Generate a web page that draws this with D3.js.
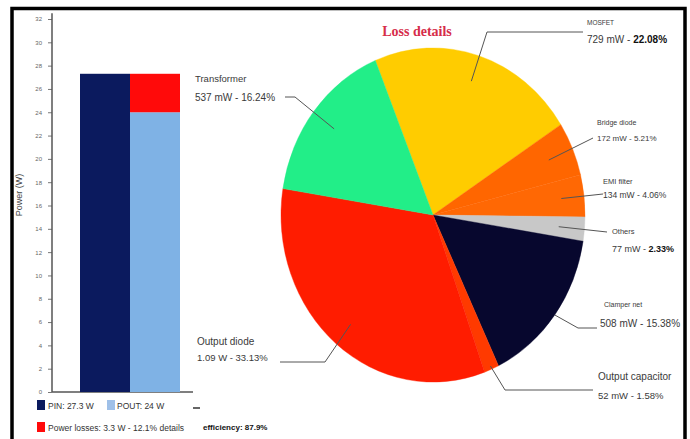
<!DOCTYPE html>
<html><head><meta charset="utf-8">
<script src="https://cdn.jsdelivr.net/npm/d3@7"></script>
<style>body{margin:0;background:#fff;} svg{display:block;font-family:"Liberation Sans",Arial,sans-serif;}</style>
</head><body><svg id="c" width="690" height="439"></svg>
<script>
// ---------- data ----------
const barCategories = ["PIN", "POUT"];
const pinValues = [27.3];
const poutValues = [24];
const lossTotal = [3.3];
const yTicks = [0,2,4,6,8,10,12,14,16,18,20,22,24,26,28,30,32];
const legendTexts = ["PIN: 27.3 W", "POUT: 24 W", "Power losses: 3.3 W - 12.1% details"];
const efficiencyText = ["efficiency: 87.9%"];
const lossNames = ["MOSFET", "Bridge diode", "EMI filter", "Others", "Clamper net", "Output capacitor", "Output diode", "Transformer"];
const lossMilliwatts = [729, 172, 134, 77, 508, 52, 1090, 537];
const lossValueTexts = ["729 mW - ", "172 mW - ", "134 mW - ", "77 mW - ", "508 mW - ", "52 mW - ", "1.09 W - ", "537 mW - "];
const lossPercentTexts = ["22.08%", "5.21%", "4.06%", "2.33%", "15.38%", "1.58%", "33.13%", "16.24%"];
const pieTitle = ["Loss details"];

// ---------- styles / layout ----------
const lossColors = ["#ffcc00", "#ff6600", "#ff6804", "#c8c8c8", "#07072e", "#ff3a00", "#ff1c00", "#22ee88"];
const labelLayout = [
  {r:0.84, pts:[[487,32],[583,32]], nx:587, ny:25, vx:587, vy:43, ns:6.5, vs:10, bold:true},
  {r:0.83, pts:[[593,138]],          nx:597, ny:125, vx:597, vy:141, ns:7, vs:8, bold:false},
  {r:0.85, pts:[[603,194]],          nx:603, ny:184, vx:603, vy:198, ns:7.5, vs:8.5, bold:false},
  {r:0.83, pts:[[607,232]],          nx:612, ny:234, vx:612, vy:252, ns:7.5, vs:9, bold:true},
  {r:1.0,  pts:[[578,328],[597,328]], nx:604, ny:307, vx:600, vy:327, ns:7, vs:10, bold:false},
  {r:0.98, pts:[[505,390],[593,390]], nx:598, ny:380, vx:598, vy:399, ns:10, vs:9.5, bold:false},
  {r:0.85, pts:[[325,362],[280,362]], nx:197, ny:345, vx:197, vy:361, ns:10, vs:9.5, bold:false},
  {r:0.83, pts:[[295,97],[285,97]],   nx:195, ny:82, vx:195, vy:101, ns:9.5, vs:10, bold:false}
];

const svg = d3.select("#c");

// frame
svg.append("path").attr("d","M12,439 V8.5 H685 V439")
  .attr("fill","none").attr("stroke","#000").attr("stroke-width",3.5);

// ---------- bar chart ----------
const y = d3.scaleLinear().domain([0,32]).range([392,19]);
const x = d3.scaleBand().domain(barCategories).range([80,180]).padding(0);

const ax = svg.append("g").attr("transform","translate(52,0)")
  .call(d3.axisLeft(y).tickValues(yTicks).tickSize(4).tickPadding(6));
ax.select(".domain").remove();
ax.selectAll(".tick line").attr("stroke","#777");
ax.selectAll(".tick text").attr("font-size",6).attr("fill","#666").attr("font-family","Liberation Sans, Arial");
svg.append("line").attr("x1",52).attr("x2",52).attr("y1",y(0)).attr("y2",y(32.5))
  .attr("stroke","#555").attr("stroke-width",1.5);
svg.append("line").attr("x1",52).attr("x2",193).attr("y1",y(0)).attr("y2",y(0))
  .attr("stroke","#555").attr("stroke-width",1.5);

svg.append("text").attr("transform",`translate(22,${195}) rotate(-90)`)
  .attr("text-anchor","middle").attr("font-size",9).attr("fill","#444").text("Power (W)");

svg.append("rect").attr("x",x("PIN")).attr("width",x.bandwidth())
  .attr("y",y(pinValues[0])).attr("height",y(0)-y(pinValues[0])).attr("fill","#0b1a5e");
svg.append("rect").attr("x",x("POUT")).attr("width",x.bandwidth())
  .attr("y",y(poutValues[0])).attr("height",y(0)-y(poutValues[0])).attr("fill","#7fb2e5");
svg.append("rect").attr("x",x("POUT")).attr("width",x.bandwidth())
  .attr("y",y(poutValues[0]+lossTotal[0])).attr("height",y(poutValues[0])-y(poutValues[0]+lossTotal[0])).attr("fill","#ff0a0a");

// legend
const lg = svg.append("g").attr("font-size",8.5).attr("fill","#333");
lg.append("rect").attr("x",37).attr("y",400).attr("width",8).attr("height",10).attr("fill","#0b1a5e");
lg.append("text").attr("x",48).attr("y",409).text(legendTexts[0]);
lg.append("rect").attr("x",107).attr("y",400).attr("width",8).attr("height",10).attr("fill","#9fc0e8");
lg.append("text").attr("x",117).attr("y",409).text(legendTexts[1]);
lg.append("rect").attr("x",37).attr("y",422).attr("width",8).attr("height",10).attr("fill","#ff0a0a");
lg.append("text").attr("x",48).attr("y",431).text(legendTexts[2]);
svg.append("line").attr("x1",193).attr("x2",200).attr("y1",408).attr("y2",408).attr("stroke","#333").attr("stroke-width",1.5);
svg.append("text").attr("x",203).attr("y",430).attr("font-size",8).attr("font-weight","bold").attr("fill","#111").text(efficiencyText[0]);

// ---------- pie ----------
const cx = 433, cy = 215, R = 152, sy = 1.099;
const start = -22.3 * Math.PI / 180;
const pie = d3.pie().sort(null).value(d => d).startAngle(start).endAngle(start + 2*Math.PI);
const arcs = pie(lossMilliwatts);
const arc = d3.arc().innerRadius(0).outerRadius(R);
const pg = svg.append("g").attr("transform",`translate(${cx},${cy}) scale(1,${sy})`);
pg.selectAll("path").data(arcs).join("path")
  .attr("d", arc).attr("fill",(d,i)=>lossColors[i])
  .attr("stroke",(d,i)=>lossColors[i]).attr("stroke-width",0.4).attr("vector-effect","non-scaling-stroke");

// title
svg.append("text").attr("x",417).attr("y",36).attr("text-anchor","middle")
  .attr("font-family","Liberation Serif, Times New Roman, serif").attr("font-weight","bold")
  .attr("font-size",14).attr("fill","#d62d4a").text(pieTitle[0]);

// leaders + labels
arcs.forEach((d,i) => {
  const L = labelLayout[i];
  const a = (d.startAngle + d.endAngle)/2;
  const p0 = [cx + R*L.r*Math.sin(a), cy - R*L.r*Math.cos(a)*sy];
  const pts = [p0].concat(L.pts);
  svg.append("path").attr("d", d3.line()(pts)).attr("fill","none")
    .attr("stroke","#555").attr("stroke-width",1);
  svg.append("text").attr("x",L.nx).attr("y",L.ny).attr("font-size",L.ns).attr("fill","#3a3a3a").text(lossNames[i]);
  const t = svg.append("text").attr("x",L.vx).attr("y",L.vy).attr("font-size",L.vs).attr("fill","#3a3a3a");
  t.append("tspan").text(lossValueTexts[i]);
  t.append("tspan").attr("font-weight", L.bold ? "bold" : "normal").attr("fill", L.bold ? "#111" : "#3a3a3a").text(lossPercentTexts[i]);
});
</script>
</body></html>
